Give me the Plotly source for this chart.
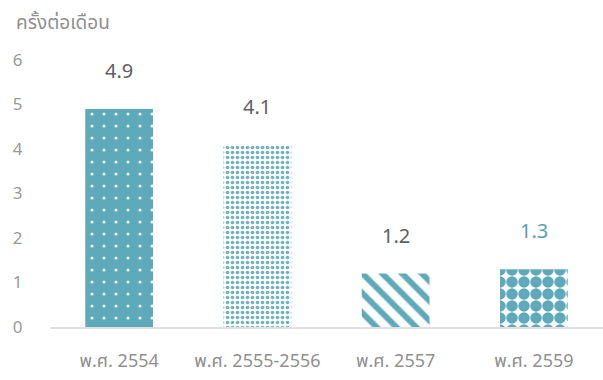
import plotly.graph_objects as go

# Frequency (times per month) by survey period
categories = ["พ.ศ. 2554", "พ.ศ. 2555-2556", "พ.ศ. 2557", "พ.ศ. 2559"]
values = [4.9, 4.1, 1.2, 1.3]
value_labels = ["4.9", "4.1", "1.2", "1.3"]
y_ticks = [0, 1, 2, 3, 4, 5, 6]
y_title = "ครั้งต่อเดือน"

TEAL = "#5faaba"
WHITE = "#ffffff"
GREY = "#8f8f8f"
FONT = "Noto Sans Thai, Tahoma, Noto Sans, sans-serif"

# One pattern per bar
patterns = [
    dict(shape=".", fillmode="overlay", bgcolor=TEAL, fgcolor=WHITE, fgopacity=0.9, size=12, solidity=0.05),
    dict(shape=".", fillmode="overlay", bgcolor=WHITE, fgcolor=TEAL, fgopacity=0.9, size=5, solidity=0.42),
    dict(shape="\\", fillmode="overlay", bgcolor=WHITE, fgcolor=TEAL, fgopacity=1, size=14, solidity=0.42),
    dict(shape=".", fillmode="overlay", bgcolor=WHITE, fgcolor=TEAL, fgopacity=1, size=12, solidity=0.72),
]

fig = go.Figure()
for cat, val, pat in zip(categories, values, patterns):
    fig.add_trace(go.Bar(
        x=[cat], y=[val],
        marker=dict(color=TEAL, line=dict(width=0), pattern=pat),
        width=0.49, showlegend=False, hoverinfo="skip",
    ))

label_colors = ["#606060", "#606060", "#606060", "#5a9db0"]
for cat, val, lab, col in zip(categories, values, value_labels, label_colors):
    fig.add_annotation(
        x=cat, y=val, text=lab, showarrow=False,
        yanchor="bottom", yshift=20,
        font=dict(size=20, color=col, family=FONT),
    )

fig.update_layout(
    width=603, height=380,
    margin=dict(l=50, r=0, t=60, b=53),
    paper_bgcolor=WHITE, plot_bgcolor=WHITE,
    font=dict(family=FONT, color=GREY, size=17),
    title=dict(
        text=y_title, x=16 / 603, xanchor="left", xref="container",
        y=1 - 22 / 380, yanchor="middle", yref="container",
        font=dict(size=19, color=GREY, family=FONT),
    ),
    xaxis=dict(
        type="category", categoryorder="array", categoryarray=categories,
        showgrid=False, showline=True, linecolor="#e0e0e0", linewidth=1.5,
        ticks="outside", ticklen=17, tickcolor="rgba(0,0,0,0)",
        tickfont=dict(size=18, color=GREY, family=FONT),
    ),
    yaxis=dict(
        range=[0, 6], tickvals=y_ticks, showgrid=False, zeroline=False,
        showline=False, ticks="outside", ticklen=23, tickcolor="rgba(0,0,0,0)",
        tickfont=dict(size=17, color="#999999", family=FONT),
    ),
)

fig.write_html("out.html")
